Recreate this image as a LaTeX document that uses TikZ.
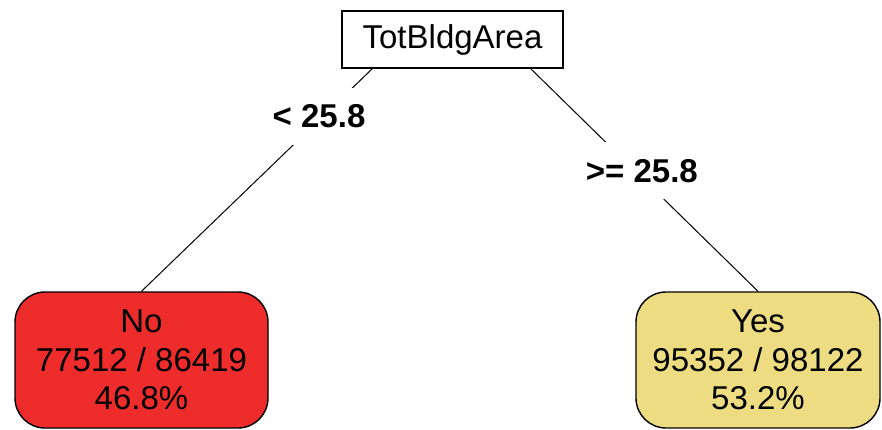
\documentclass[tikz,border=0pt]{standalone}
\usepackage{fontspec}
\setmainfont{Liberation Sans}
\definecolor{nofill}{RGB}{238,44,44}
\definecolor{yesfill}{RGB}{238,220,130}
\begin{document}
\begin{tikzpicture}[x=1pt,y=-1pt,font=\fontsize{33}{38.5}\selectfont,
    splitbox/.style={draw,line width=1.6pt,minimum width=221pt,minimum height=57pt,inner sep=0pt},
    leafbox/.style={draw,line width=1.4pt,rounded corners=30pt,align=center,
      minimum height=136pt,inner sep=0pt},
    branch/.style={line width=1pt},
    cutlabel/.style={fill=white,font=\fontsize{33}{38.5}\selectfont\bfseries,
      minimum height=57pt,inner sep=4pt}]
  \fill[white] (0,0) rectangle (882,429);
  \useasboundingbox (0,0) rectangle (882,429);
  % tree: one split, two leaves
  \node[splitbox] (root) at (452.5,39.5) {TotBldgArea};
  \node[leafbox,fill=nofill,minimum width=253pt] (no) at (141.5,360)
    {No\\77512 / 86419\\46.8\%};
  \node[leafbox,fill=yesfill,minimum width=244pt] (yes) at (758,360)
    {Yes\\95352 / 98122\\53.2\%};
  \draw[branch] ([xshift=31pt]root.south west) -- (no.north)
    node[cutlabel,pos=0.213,xshift=-4pt] (lt) {< 25.8};
  \draw[branch] ([xshift=-33pt]root.south east) -- (yes.north)
    node[cutlabel,pos=0.458,xshift=7pt] (ge) {>= 25.8};
\end{tikzpicture}
\end{document}
